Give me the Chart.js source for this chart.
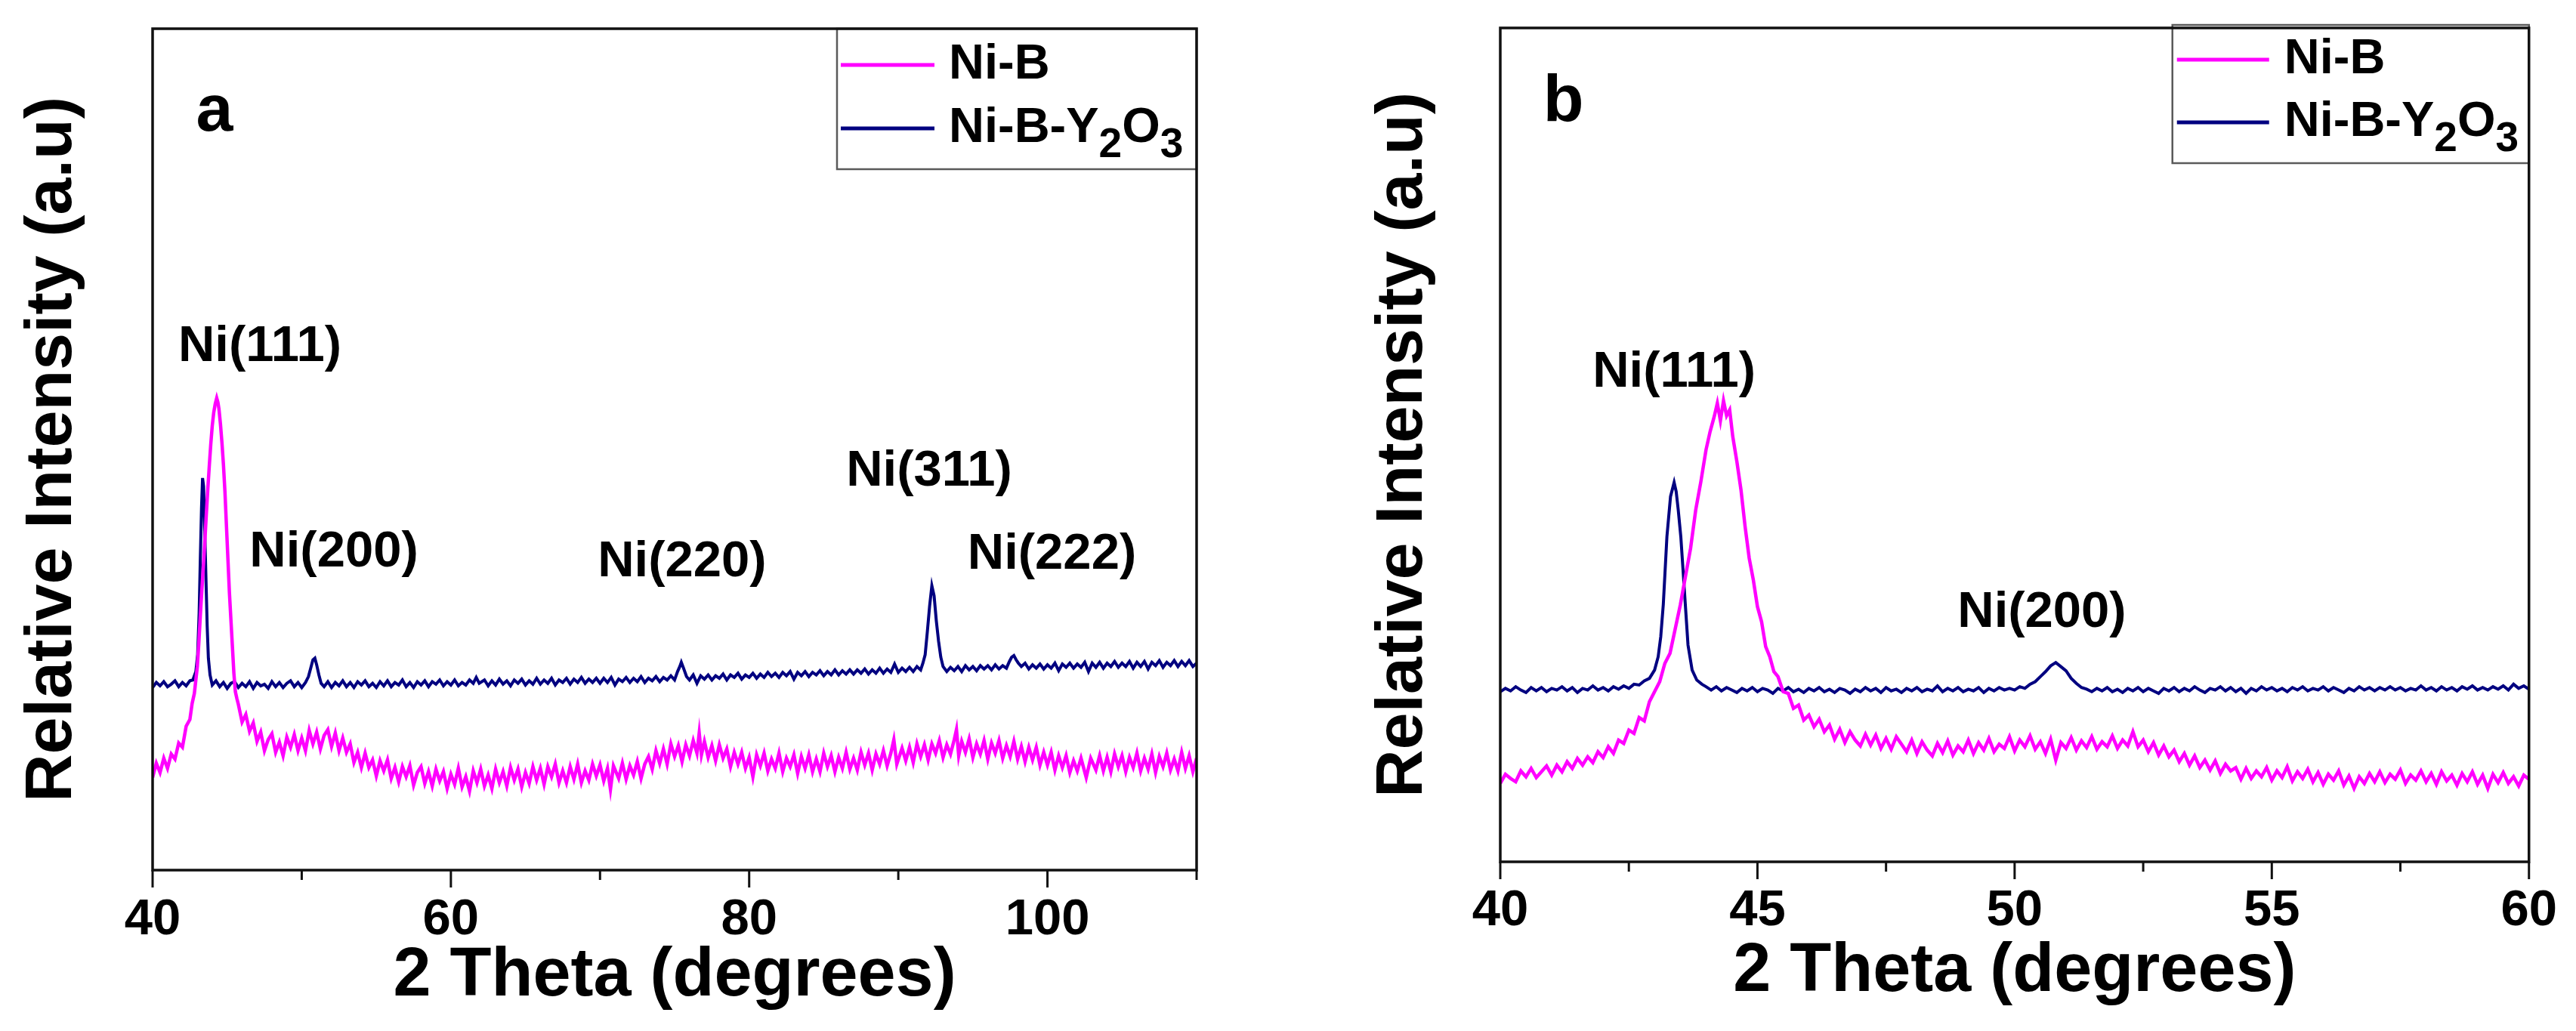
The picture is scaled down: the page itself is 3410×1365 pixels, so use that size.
<!DOCTYPE html>
<html><head><meta charset="utf-8">
<script src="https://cdn.jsdelivr.net/npm/chart.js@4.4.1/dist/chart.umd.min.js"></script>
<style>
html,body{margin:0;padding:0;background:#fff;}
#wrap{position:relative;width:3410px;height:1365px;overflow:hidden;background:#fff;}
canvas{position:absolute;top:0;}
</style></head><body>
<div id="wrap">
<canvas id="ca" width="1700" height="1365" style="left:0px"></canvas>
<canvas id="cb" width="1710" height="1365" style="left:1700px"></canvas>
</div>
<script>
// ---------------- DATA ----------------
const seriesNames = ['Ni-B', 'Ni-B-Y₂O₃'];
const xTitle = '2 Theta (degrees)';
const yTitle = 'Relative Intensity (a.u)';

// Panel a : tick positions and labels
const aTicks = [40, 50, 60, 70, 80, 90, 100, 110];
const aTickLabels = ['40', '', '60', '', '80', '', '100', ''];
// Panel b : tick positions and labels
const bTicks = [40, 42.5, 45, 47.5, 50, 52.5, 55, 57.5, 60];
const bTickLabels = ['40', '', '45', '', '50', '', '55', '', '60'];

// Panel a, Ni-B  [2theta, intensity]
const aNiB = [[40,11.0],[40.25,12.7],[40.5,11.6],[40.75,13.3],[41,12.1],[41.25,13.8],[41.5,13.2],[41.75,15.1],[42,14.6],[42.25,17.1],[42.5,17.9],
[42.65,19.8],[42.8,21.0],[42.9,22.6],[43,24.2],[43.1,27.0],[43.2,30.2],[43.3,33.2],[43.4,36.0],[43.5,39.0],[43.6,42.2],[43.7,45.2],[43.8,48.0],[43.9,50.6],[44,52.8],[44.1,54.4],[44.2,55.4],[44.3,56.1],[44.38,55.6],[44.45,54.8],[44.55,53.0],[44.65,50.8],[44.75,48.2],[44.85,45.0],[44.95,41.0],[45.05,37.0],[45.15,33.0],[45.25,29.8],[45.35,26.6],[45.45,23.4],[45.55,21.2],[45.65,20.4],
[45.75,19.7],[46,17.6],[46.25,18.5],[46.5,16.5],[46.75,17.5],[47,15.3],[47.25,16.4],[47.5,14.2],[47.75,15.5],[48,16.2],[48.25,14.0],[48.5,15.2],[48.75,13.6],[49,15.8],[49.25,14.6],[49.5,16.1],[49.75,14.2],[50,15.7],[50.25,14.2],[50.5,16.6],[50.75,15.0],[51,16.4],[51.25,14.4],[51.5,16.0],[51.75,16.7],[52,14.7],[52.25,16.3],[52.5,14.2],[52.75,15.7],[53,14.0],[53.25,15.0],[53.5,12.8],[53.75,14.0],[54,12.2],[54.25,13.9],[54.5,12.2],[54.75,13.1],[55,11.2],[55.25,13.0],[55.5,11.8],[55.75,13.1],[56,10.9],[56.25,12.2],[56.5,10.5],[56.75,12.3],[57,11.1],[57.25,12.4],[57.5,10.1],[57.75,11.6],[58,12.3],[58.25,10.3],[58.5,11.7],[58.75,10.0],[59,12.0],[59.25,10.6],[59.5,11.7],[59.75,9.7],[60,11.4],[60.25,10.2],[60.5,12.1],[60.75,9.9],[61,11.1],[61.25,9.4],[61.5,11.8],[61.75,10.4],[62,12.0],[62.25,10.0],[62.5,11.3],[62.75,9.7],[63,12.0],[63.25,10.4],[63.5,11.7],[63.75,10.0],[64,12.2],[64.25,10.7],[64.5,12.0],[64.75,9.9],[65,11.6],[65.25,10.3],[65.5,12.3],[65.75,10.7],[66,12.1],[66.25,10.2],[66.5,12.3],[66.75,11.1],[67,12.6],[67.25,10.4],[67.5,11.8],[67.75,10.4],[68,12.3],[68.25,10.8],[68.5,12.6],[68.75,10.4],[69,11.8],[69.25,10.7],[69.5,12.6],[69.75,11.2],[70,12.5],[70.25,10.6],[70.5,12.1],[70.7,9.6],[70.9,12.4],[71.25,10.9],[71.5,12.7],[71.75,10.8],[72,12.4],[72.25,11.3],[72.5,12.9],[72.75,10.9],[73,12.6],[73.25,13.5],[73.5,12.0],[73.75,14.2],[74,12.7],[74.25,14.4],[74.5,12.6],[74.75,15.0],[75,13.5],[75.25,14.8],[75.5,12.9],[75.75,14.9],[76,13.6],[76.25,15.4],[76.5,13.9],[76.65,16.3],[76.8,13.7],[77,15.3],[77.25,13.4],[77.5,14.8],[77.75,13.0],[78,14.9],[78.25,13.3],[78.5,14.4],[78.75,12.3],[79,14.0],[79.25,12.6],[79.5,14.0],[79.75,12.1],[80,13.4],[80.25,11.1],[80.5,13.7],[80.75,12.4],[81,13.9],[81.25,11.8],[81.5,13.2],[81.75,12.1],[82,13.9],[82.25,11.7],[82.5,13.3],[82.75,12.3],[83,13.7],[83.25,11.5],[83.5,13.5],[83.75,12.1],[84,13.7],[84.25,11.7],[84.5,13.2],[84.75,11.7],[85,13.9],[85.25,12.3],[85.5,13.6],[85.75,11.7],[86,13.4],[86.25,12.1],[86.5,14.0],[86.75,12.0],[87,13.3],[87.25,11.9],[87.5,14.0],[87.75,12.5],[88,13.9],[88.25,11.9],[88.5,13.8],[88.75,12.6],[89,14.2],[89.25,12.4],[89.5,13.9],[89.7,15.5],[89.9,12.6],[90.25,14.5],[90.5,13.0],[90.75,14.6],[91,12.8],[91.25,15.0],[91.5,13.5],[91.75,14.9],[92,13.1],[92.25,15.0],[92.5,13.9],[92.75,15.4],[93,13.4],[93.25,14.9],[93.5,13.8],[93.75,15.5],[93.9,16.7],[94.05,13.6],[94.25,15.3],[94.5,14.0],[94.75,15.6],[95,13.4],[95.25,15.0],[95.5,13.8],[95.75,15.4],[96,13.2],[96.25,15.1],[96.5,13.9],[96.75,15.4],[97,13.3],[97.25,14.8],[97.5,13.5],[97.75,15.3],[98,13.2],[98.25,14.7],[98.5,12.9],[98.75,14.6],[99,13.1],[99.25,14.6],[99.5,12.5],[99.75,14.0],[100,12.5],[100.25,14.0],[100.5,11.9],[100.75,13.6],[101,12.2],[101.25,13.6],[101.5,11.6],[101.75,13.0],[102,11.8],[102.25,13.3],[102.6,11.0],[102.9,13.3],[103.25,11.9],[103.5,13.6],[103.75,11.8],[104,13.4],[104.25,11.7],[104.5,13.8],[104.75,12.3],[105,13.6],[105.25,11.7],[105.5,13.4],[105.75,12.2],[106,13.9],[106.25,11.8],[106.5,13.3],[106.75,12.0],[107,13.8],[107.25,11.6],[107.5,13.5],[107.75,12.3],[108,13.9],[108.25,11.9],[108.5,13.2],[108.75,11.8],[109,14.0],[109.25,12.1],[109.5,13.6],[109.75,11.7],[110,13.3]];

// Panel a, Ni-B-Y2O3
const aNiBY = [[40,21.7],[40.25,22.3],[40.5,21.9],[40.75,22.4],[41,21.8],[41.25,22.1],[41.5,22.5],[41.75,21.8],[42,22.3],[42.25,21.9],[42.5,22.5],[42.7,22.6],[42.9,23.6],
[43.02,25.6],[43.12,30.5],[43.2,37.0],[43.28,43.0],[43.35,46.6],[43.42,45.6],[43.5,40.0],[43.58,34.5],[43.66,29.0],[43.74,25.2],[43.85,23.2],
[44,22.0],[44.25,22.5],[44.5,21.8],[44.75,22.3],[45,21.6],[45.25,22.2],[45.5,22.4],[45.75,21.7],[46,22.2],[46.25,21.8],[46.5,22.4],[46.75,21.6],[47,22.3],[47.25,21.9],[47.5,22.1],[47.75,21.6],[48,22.4],[48.25,21.8],[48.5,22.3],[48.75,21.7],[49,22.2],[49.25,22.5],[49.5,21.8],[49.75,22.3],[50,21.7],[50.25,22.3],
[50.45,23.0],[50.6,24.0],[50.75,25.0],[50.88,25.2],[51,24.4],[51.15,23.2],[51.3,22.2],
[51.5,21.8],[51.75,22.4],[52,21.7],[52.25,22.3],[52.5,21.9],[52.75,22.5],[53,21.8],[53.25,22.3],[53.5,21.7],[53.75,22.4],[54,22.0],[54.25,22.5],[54.5,21.8],[54.75,22.2],[55,21.7],[55.25,22.4],[55.5,21.9],[55.75,22.5],[56,21.8],[56.25,22.3],[56.5,22.0],[56.75,22.6],[57,21.8],[57.25,22.3],[57.5,21.7],[57.75,22.4],[58,22.0],[58.25,22.5],[58.5,21.8],[58.75,22.4],[59,22.1],[59.25,22.6],[59.5,21.9],[59.75,22.4],[60,22.0],[60.25,22.6],[60.5,21.9],[60.75,22.3],[61,22.0],[61.25,22.6],[61.5,22.2],[61.7,22.9],[61.9,22.2],[62.25,22.6],[62.5,21.9],[62.75,22.5],[63,22.0],[63.25,22.7],[63.5,22.1],[63.75,22.5],[64,21.9],[64.25,22.6],[64.5,22.2],[64.75,22.7],[65,22.0],[65.25,22.5],[65.5,22.1],[65.75,22.8],[66,22.1],[66.25,22.6],[66.5,22.2],[66.75,22.8],[67,22.0],[67.25,22.6],[67.5,22.3],[67.75,22.8],[68,22.1],[68.25,22.7],[68.5,22.3],[68.75,22.9],[69,22.2],[69.25,22.7],[69.5,22.3],[69.75,22.8],[70,22.2],[70.25,22.8],[70.5,22.3],[70.75,22.9],[71,22.0],[71.25,22.7],[71.5,22.4],[71.75,22.9],[72,22.3],[72.25,22.8],[72.5,22.4],[72.75,23.0],[73,22.3],[73.25,22.8],[73.5,22.5],[73.75,23.0],[74,22.4],[74.25,22.9],[74.5,22.6],[74.75,23.1],[75,22.6],
[75.2,23.6],[75.35,24.2],[75.45,24.7],[75.6,24.0],[75.8,23.0],
[76,22.6],[76.25,23.2],[76.5,22.2],[76.75,23.1],[77,22.7],[77.25,23.2],[77.5,22.6],[77.75,23.1],[78,22.8],[78.25,23.3],[78.5,22.6],[78.75,23.2],[79,22.9],[79.25,23.4],[79.5,22.7],[79.75,23.2],[80,22.9],[80.25,23.4],[80.5,22.8],[80.75,23.3],[81,22.9],[81.25,23.5],[81.5,23.0],[81.75,23.4],[82,22.9],[82.25,23.5],[82.5,23.1],[82.75,23.6],[83,22.7],[83.25,23.5],[83.5,23.1],[83.75,23.6],[84,23.0],[84.25,23.5],[84.5,23.2],[84.75,23.7],[85,23.1],[85.25,23.6],[85.5,23.2],[85.75,23.8],[86,23.2],[86.25,23.7],[86.5,23.3],[86.75,23.8],[87,23.3],[87.25,23.8],[87.5,23.4],[87.75,23.9],[88,23.3],[88.25,23.8],[88.5,23.4],[88.75,24.0],[89,23.4],[89.25,23.9],[89.5,23.5],[89.75,24.5],[90,23.5],[90.25,24.0],[90.5,23.6],[90.75,24.1],[91,23.6],[91.25,24.2],[91.5,23.8],
[91.65,24.6],[91.8,25.6],[91.95,28.4],[92.1,31.4],[92.25,33.8],[92.4,32.6],[92.55,29.6],[92.7,27.2],[92.85,25.3],[93,24.2],
[93.25,23.6],[93.5,24.1],[93.75,23.7],[94,24.2],[94.25,23.6],[94.5,24.3],[94.75,23.8],[95,24.2],[95.25,23.7],[95.5,24.3],[95.75,23.9],[96,24.3],[96.25,23.8],[96.5,24.4],[96.75,23.9],[97,24.3],[97.25,24.0],
[97.45,24.8],[97.6,25.3],[97.75,25.5],[97.9,25.0],[98.05,24.6],
[98.25,24.2],[98.5,24.6],[98.75,23.9],[99,24.4],[99.25,24.0],[99.5,24.5],[99.75,23.9],[100,24.4],[100.25,24.0],[100.5,24.6],[100.75,23.7],[101,24.5],[101.25,24.1],[101.5,24.6],[101.75,24.0],[102,24.5],[102.25,24.1],[102.5,24.7],[102.75,23.6],[103,24.6],[103.25,24.1],[103.5,24.7],[103.75,24.0],[104,24.6],[104.25,24.2],[104.5,24.8],[104.75,24.1],[105,24.6],[105.25,24.2],[105.5,24.8],[105.75,24.0],[106,24.7],[106.25,24.2],[106.5,24.8],[106.75,23.9],[107,24.7],[107.25,24.3],[107.5,24.9],[107.75,24.1],[108,24.7],[108.25,24.3],[108.5,24.9],[108.75,24.2],[109,24.8],[109.25,24.3],[109.5,24.9],[109.75,24.2],[110,24.6]];

// Panel b, Ni-B
const bNiB = [[40,9.4],[40.1,10.5],[40.2,10.0],[40.3,9.6],[40.4,10.9],[40.5,10.2],[40.6,11.2],[40.7,10.1],[40.8,10.8],[40.9,11.5],[41,10.4],[41.1,11.6],[41.2,10.8],[41.3,12.0],[41.4,11.2],[41.5,12.4],[41.6,11.6],[41.7,12.6],[41.8,11.9],[41.9,13.2],[42,12.5],[42.1,13.8],[42.2,13.0],[42.3,14.6],[42.4,14.2],[42.5,15.8],[42.6,15.4],[42.7,17.3],[42.8,16.9],[42.9,19.2],[43,20.4],[43.1,21.6],[43.2,23.8],[43.3,25.0],[43.4,27.9],[43.5,30.8],[43.6,34.2],[43.7,37.6],[43.8,42.2],[43.9,45.6],[44,49.4],[44.08,51.6],[44.16,53.4],[44.22,55.0],[44.28,52.9],[44.34,55.3],[44.4,53.5],[44.46,54.2],[44.52,51.0],[44.6,48.0],[44.68,44.6],[44.76,40.2],[44.84,36.4],[44.92,33.8],[45,30.6],[45.08,28.8],[45.16,25.8],[45.24,24.6],[45.32,22.8],[45.4,22.2],[45.5,20.4],[45.6,20.2],[45.7,18.4],[45.8,18.8],[45.9,17.0],[46,17.6],[46.1,16.2],[46.2,17.1],[46.3,15.6],[46.4,16.4],[46.5,14.7],[46.6,15.9],[46.7,14.3],[46.8,15.6],[46.9,14.6],[47,13.9],[47.1,15.3],[47.2,14.0],[47.3,15.2],[47.4,13.6],[47.5,14.8],[47.6,13.5],[47.7,15.0],[47.8,14.1],[47.9,13.2],[48,14.6],[48.1,13.0],[48.2,14.4],[48.3,13.4],[48.4,12.7],[48.5,14.2],[48.6,13.1],[48.7,14.5],[48.8,12.8],[48.9,13.9],[49,13.2],[49.1,14.6],[49.2,13.0],[49.3,14.3],[49.4,13.4],[49.5,14.8],[49.6,13.2],[49.7,14.1],[49.8,13.6],[49.9,15.0],[50,13.3],[50.1,14.6],[50.2,13.8],[50.3,15.1],[50.4,13.5],[50.5,14.4],[50.6,13.0],[50.7,14.7],[50.8,12.2],[50.9,14.3],[51,13.6],[51.1,14.9],[51.2,13.4],[51.3,14.5],[51.4,13.7],[51.5,15.0],[51.6,13.5],[51.7,14.4],[51.8,13.8],[51.9,15.1],[52,13.6],[52.1,14.6],[52.2,13.9],[52.3,15.6],[52.4,13.8],[52.5,14.6],[52.6,13.2],[52.7,14.3],[52.8,12.8],[52.9,13.9],[53,12.6],[53.1,13.4],[53.2,12.0],[53.3,13.0],[53.4,11.6],[53.5,12.7],[53.6,11.3],[53.7,12.2],[53.8,11.0],[53.9,12.1],[54,10.6],[54.1,11.7],[54.2,10.9],[54.3,11.3],[54.4,9.9],[54.5,11.2],[54.6,10.0],[54.7,10.9],[54.8,10.2],[54.9,11.3],[55,9.8],[55.1,10.9],[55.2,10.1],[55.3,11.4],[55.4,9.7],[55.5,10.8],[55.6,10.0],[55.7,11.1],[55.8,9.6],[55.9,10.7],[56,9.3],[56.1,10.5],[56.2,9.8],[56.3,10.9],[56.4,9.2],[56.5,10.3],[56.6,8.8],[56.7,10.2],[56.8,9.4],[56.9,10.6],[57,9.6],[57.1,10.8],[57.2,9.5],[57.3,10.5],[57.4,9.9],[57.5,11.0],[57.6,9.4],[57.7,10.4],[57.8,9.8],[57.9,10.9],[58,9.6],[58.1,10.6],[58.2,9.3],[58.3,10.8],[58.4,9.7],[58.5,10.4],[58.6,9.2],[58.7,10.6],[58.8,9.6],[58.9,10.8],[59,9.3],[59.1,10.4],[59.2,8.8],[59.3,10.5],[59.4,9.5],[59.5,10.7],[59.6,9.4],[59.7,10.2],[59.8,9.1],[59.9,10.4],[60,9.9]];

// Panel b, Ni-B-Y2O3
const bNiBY = [[40,20.4],[40.1,20.8],[40.2,20.5],[40.3,21.0],[40.4,20.6],[40.5,20.3],[40.6,20.9],[40.7,20.5],[40.8,20.9],[40.9,20.4],[41,20.8],[41.1,20.6],[41.2,21.0],[41.3,20.5],[41.4,20.9],[41.5,20.3],[41.6,20.8],[41.7,20.6],[41.8,21.1],[41.9,20.6],[42,20.9],[42.1,20.5],[42.2,21.0],[42.3,20.7],[42.4,21.1],[42.5,20.8],[42.6,21.3],[42.7,21.2],[42.8,21.7],[42.9,22.0],[43,23.0],
[43.07,24.6],[43.12,27.0],[43.17,30.9],[43.24,39.0],[43.31,43.8],[43.38,45.5],[43.42,44.4],[43.46,42.2],[43.51,39.0],[43.58,32.5],[43.65,26.0],[43.73,23.0],[43.82,21.8],[43.92,21.3],
[44,21.0],[44.1,20.6],[44.2,21.0],[44.3,20.5],[44.4,20.9],[44.5,20.6],[44.6,20.3],[44.7,20.8],[44.8,20.5],[44.9,20.9],[45,20.4],[45.1,20.8],[45.2,20.6],[45.3,20.2],[45.4,20.8],[45.5,20.5],[45.6,20.9],[45.7,20.4],[45.8,20.7],[45.9,20.3],[46,20.8],[46.1,20.5],[46.2,20.9],[46.3,20.4],[46.4,20.7],[46.5,20.3],[46.6,20.8],[46.7,20.6],[46.8,20.2],[46.9,20.7],[47,20.4],[47.1,20.9],[47.2,20.5],[47.3,20.8],[47.4,20.3],[47.5,20.9],[47.6,20.5],[47.7,20.7],[47.8,20.3],[47.9,20.8],[48,20.5],[48.1,20.9],[48.2,20.4],[48.3,20.7],[48.4,20.5],[48.5,21.1],[48.6,20.4],[48.7,20.8],[48.8,20.5],[48.9,20.9],[49,20.4],[49.1,20.7],[49.2,20.5],[49.3,20.9],[49.4,20.3],[49.5,20.8],[49.6,20.5],[49.7,20.9],[49.8,20.6],[49.9,20.8],[50,20.6],[50.1,21.0],[50.2,20.8],[50.3,21.3],[50.4,21.6],[50.5,22.2],[50.6,22.8],[50.7,23.5],[50.8,23.9],[50.9,23.4],[51,22.9],[51.1,22.0],[51.2,21.4],[51.3,20.9],[51.4,20.7],[51.5,20.4],[51.6,20.8],[51.7,20.5],[51.8,20.9],[51.9,20.4],[52,20.7],[52.1,20.3],[52.2,20.8],[52.3,20.5],[52.4,20.9],[52.5,20.4],[52.6,20.8],[52.7,20.5],[52.8,20.2],[52.9,20.8],[53,20.5],[53.1,20.9],[53.2,20.4],[53.3,20.8],[53.4,20.5],[53.5,21.0],[53.6,20.6],[53.7,20.3],[53.8,20.8],[53.9,20.6],[54,21.0],[54.1,20.5],[54.2,20.9],[54.3,20.4],[54.4,20.8],[54.5,20.2],[54.6,20.8],[54.7,20.5],[54.8,21.0],[54.9,20.6],[55,20.9],[55.1,20.5],[55.2,20.8],[55.3,20.4],[55.4,20.9],[55.5,20.6],[55.6,21.0],[55.7,20.5],[55.8,20.8],[55.9,20.6],[56,21.0],[56.1,20.5],[56.2,20.9],[56.3,20.6],[56.4,20.3],[56.5,20.8],[56.6,20.5],[56.7,21.0],[56.8,20.6],[56.9,20.9],[57,20.5],[57.1,20.9],[57.2,20.6],[57.3,21.0],[57.4,20.6],[57.5,20.9],[57.6,20.5],[57.7,20.8],[57.8,20.6],[57.9,21.1],[58,20.6],[58.1,20.9],[58.2,20.5],[58.3,21.0],[58.4,20.6],[58.5,20.9],[58.6,20.5],[58.7,21.0],[58.8,20.7],[58.9,21.1],[59,20.6],[59.1,20.9],[59.2,20.6],[59.3,21.0],[59.4,20.7],[59.5,21.1],[59.6,20.6],[59.7,21.3],[59.8,20.8],[59.9,21.1],[60,20.7]];

// Peak label texts
const aPeakTexts = ['Ni(111)', 'Ni(200)', 'Ni(220)', 'Ni(311)', 'Ni(222)'];
const bPeakTexts = ['Ni(111)', 'Ni(200)'];

// ---------------- STYLE / LAYOUT ----------------
const FONT = '"Liberation Sans", Arial, sans-serif';
const COLORS = ['#FF00FF', '#000080'];
const WIDTHS = [4.5, 4];

// label anchor positions in data coordinates (layout only)
const aNotePos = [[47.19, 60.5], [52.16, 36.1], [75.5, 34.9], [92.07, 45.7], [100.3, 35.8]];
const bNotePos = [[43.38, 57.0], [50.53, 28.2]];

function richText(ctx, text, x, y, size) {
  const subMap = {'₂': '2', '₃': '3'};
  let cx = x;
  for (const ch of text) {
    if (subMap[ch]) {
      ctx.font = 'bold ' + Math.round(size * 0.85) + 'px ' + FONT;
      ctx.fillText(subMap[ch], cx, y + 20);
      cx += ctx.measureText(subMap[ch]).width;
    } else {
      ctx.font = 'bold ' + size + 'px ' + FONT;
      ctx.fillText(ch, cx, y);
      cx += ctx.measureText(ch).width;
    }
  }
}

const decorPlugin = {
  id: 'xrdDecor',
  afterDraw(chart, args, o) {
    const ctx = chart.ctx;
    const ca = chart.chartArea;
    const xs = chart.scales.x, ys = chart.scales.y;
    ctx.save();
    ctx.fillStyle = '#000';
    ctx.textAlign = 'center';
    ctx.textBaseline = 'alphabetic';
    o.notes.forEach(n => {
      ctx.font = 'bold ' + n.size + 'px ' + FONT;
      ctx.fillText(n.text, xs.getPixelForValue(n.x), ys.getPixelForValue(n.y));
    });
    const lg = o.legend;
    const x0 = ca.right - lg.width, y0 = ca.top + lg.dy;
    ctx.fillStyle = '#fff';
    ctx.fillRect(x0, y0, lg.width, lg.height);
    ctx.strokeStyle = '#5a5a5a';
    ctx.lineWidth = 2.5;
    ctx.strokeRect(x0, y0, lg.width, lg.height);
    chart.data.datasets.forEach((ds, i) => {
      const ry = y0 + lg.rows[i];
      ctx.strokeStyle = ds.borderColor;
      ctx.lineWidth = 5;
      ctx.beginPath();
      ctx.moveTo(x0 + lg.l0, ry);
      ctx.lineTo(x0 + lg.l1, ry);
      ctx.stroke();
      ctx.fillStyle = '#000';
      ctx.textAlign = 'left';
      richText(ctx, ds.label, x0 + lg.tx, ry + 17.5, 65);
    });
    ctx.strokeStyle = '#111';
    ctx.lineWidth = 3.5;
    ctx.strokeRect(ca.left, ca.top, ca.right - ca.left, ca.bottom - ca.top);
    ctx.lineWidth = 3;
    xs.ticks.forEach((t, i) => {
      const px = xs.getPixelForValue(t.value);
      const len = o.labels[i] ? o.majorLen : o.minorLen;
      ctx.beginPath();
      ctx.moveTo(px, ca.bottom);
      ctx.lineTo(px, ca.bottom + len);
      ctx.stroke();
    });
    ctx.restore();
  }
};

function makeChart(id, c) {
  const datasets = c.series.map((s, i) => ({
    label: seriesNames[i],
    data: s.map(p => ({x: p[0], y: p[1]})),
    borderColor: COLORS[i],
    backgroundColor: COLORS[i],
    borderWidth: WIDTHS[i],
    pointRadius: 0,
    tension: 0,
    fill: false
  }));
  return new Chart(document.getElementById(id), {
    type: 'line',
    data: {datasets},
    plugins: [decorPlugin],
    options: {
      responsive: false,
      animation: false,
      devicePixelRatio: 1,
      events: [],
      layout: {padding: c.pad},
      plugins: {
        legend: {display: false},
        tooltip: {enabled: false},
        xrdDecor: {notes: c.notes, labels: c.tickLabels, majorLen: 23, minorLen: 13, legend: c.legend}
      },
      scales: {
        x: {
          type: 'linear', min: c.min, max: c.max,
          afterBuildTicks: s => { s.ticks = c.ticks.map(v => ({value: v})); },
          afterFit: s => { s.height = c.xH; },
          grid: {display: false, drawTicks: false},
          border: {display: false},
          ticks: {
            autoSkip: false, maxRotation: 0, minRotation: 0, padding: c.tickPad, color: '#000',
            font: {family: FONT, weight: 'bold', size: 67},
            callback: (v, i) => c.tickLabels[i]
          },
          title: {display: true, text: xTitle, color: '#000', padding: {top: 0, bottom: 0},
                  font: {family: FONT, weight: 'bold', size: 90}}
        },
        y: {
          min: 0, max: 100,
          afterFit: s => { s.width = c.yW; },
          grid: {display: false, drawTicks: false},
          border: {display: false},
          ticks: {display: false},
          title: {display: true, text: yTitle, color: '#000', padding: {top: 0, bottom: 0},
                  font: {family: FONT, weight: 'bold', size: 88}}
        }
      }
    }
  });
}

makeChart('ca', {
  series: [aNiB, aNiBY], min: 40, max: 110, ticks: aTicks, tickLabels: aTickLabels,
  pad: {left: 17, right: 116, top: 38, bottom: 18}, yW: 185, xH: 195, tickPad: 26,
  notes: aPeakTexts.map((t, i) => ({text: t, x: aNotePos[i][0], y: aNotePos[i][1], size: 67}))
          .concat([{text: 'a', x: 44.15, y: 87.9, size: 88}]),
  legend: {width: 476, height: 186, dy: 0, rows: [48, 132], l0: 5, l1: 129, tx: 148}
});

makeChart('cb', {
  series: [bNiB, bNiBY], min: 40, max: 60, ticks: bTicks, tickLabels: bTickLabels,
  pad: {left: 105, right: 56, top: 37, bottom: 24}, yW: 181, xH: 200, tickPad: 25,
  notes: bPeakTexts.map((t, i) => ({text: t, x: bNotePos[i][0], y: bNotePos[i][1], size: 67}))
          .concat([{text: 'b', x: 41.23, y: 88.9, size: 88}]),
  legend: {width: 472, height: 183, dy: -4, rows: [46, 129], l0: 6, l1: 128, tx: 148}
});
</script>
</body></html>
